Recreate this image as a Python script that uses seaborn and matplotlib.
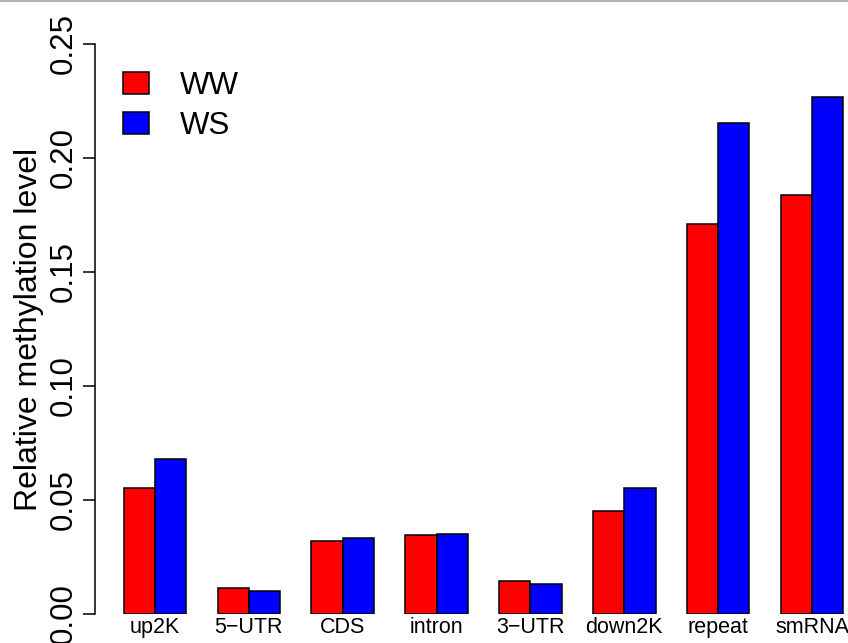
import matplotlib
matplotlib.use("Agg")
import matplotlib.pyplot as plt
from matplotlib.lines import Line2D
import seaborn as sns
import pandas as pd

regions = ["up2K", "5\u2212UTR", "CDS", "intron", "3\u2212UTR", "down2K", "repeat", "smRNA"]
ww = [0.0551, 0.0115, 0.0322, 0.0346, 0.0143, 0.0453, 0.1709, 0.1838]
ws = [0.0681, 0.0102, 0.0332, 0.0351, 0.0132, 0.0554, 0.2155, 0.2266]
groups = ["WW", "WS"]
colors = {"WW": "#ff0000", "WS": "#0000ff"}
yticks = [0.00, 0.05, 0.10, 0.15, 0.20, 0.25]
ytick_labels = ["0.00", "0.05", "0.10", "0.15", "0.20", "0.25"]

df = pd.DataFrame({
    "region": regions * 2,
    "value": ww + ws,
    "group": ["WW"] * len(regions) + ["WS"] * len(regions),
})

sns.set_style("white")
plt.rcParams["font.family"] = ["Liberation Sans", "DejaVu Sans"]
plt.rcParams["text.color"] = "black"
plt.rcParams["xtick.color"] = "black"
plt.rcParams["ytick.color"] = "black"
plt.rcParams["axes.labelcolor"] = "black"

W, H = 848, 643
fig = plt.figure(figsize=(W / 100, H / 100), dpi=100)
ax = fig.add_axes([95 / W, (H - 614) / H, (W - 95) / W, 570 / H])

sns.barplot(data=df, x="region", y="value", hue="group", order=regions,
            hue_order=groups, palette=colors, width=2 / 3, errorbar=None,
            edgecolor="black", linewidth=1.1, saturation=1, ax=ax)

ax.set_xlim(-0.6393, 7.383)
ax.set_ylim(0, 0.25)
for s in ["top", "right", "bottom"]:
    ax.spines[s].set_visible(False)
ax.spines["left"].set_bounds(0, 0.25)
ax.spines["left"].set_color("black")
ax.spines["left"].set_linewidth(1.1)

ax.set_yticks(yticks)
ax.set_yticklabels(ytick_labels, rotation=90, va="center", fontsize=22.5,
                   color="black")
ax.tick_params(axis="y", direction="out", length=8.6, width=1.1, pad=3,
               color="black", left=True)
ax.tick_params(axis="x", length=0, pad=2, labelsize=15.5, labelcolor="black")
ax.set_xlabel("")
ax.set_ylabel("")

fig.text(29 / W, 1 - 329 / H, "Relative methylation level", rotation=90,
         ha="center", va="center", fontsize=23, color="black")

handles, labels = ax.get_legend_handles_labels()
leg = ax.legend(handles, labels, loc="upper left",
                bbox_to_anchor=(123 / W, 1 - 71 / H), bbox_transform=fig.transFigure,
                frameon=False, fontsize=22.5, handlelength=0.82, handleheight=0.69,
                handletextpad=1.0, labelspacing=0.32, borderpad=0, borderaxespad=0)
for t in leg.get_texts():
    t.set_color("black")

fig.add_artist(Line2D([0, 1], [1 - 1 / H, 1 - 1 / H], transform=fig.transFigure,
                      color="#b4b4b4", lw=1.5))

fig.savefig("out.png", dpi=100)
